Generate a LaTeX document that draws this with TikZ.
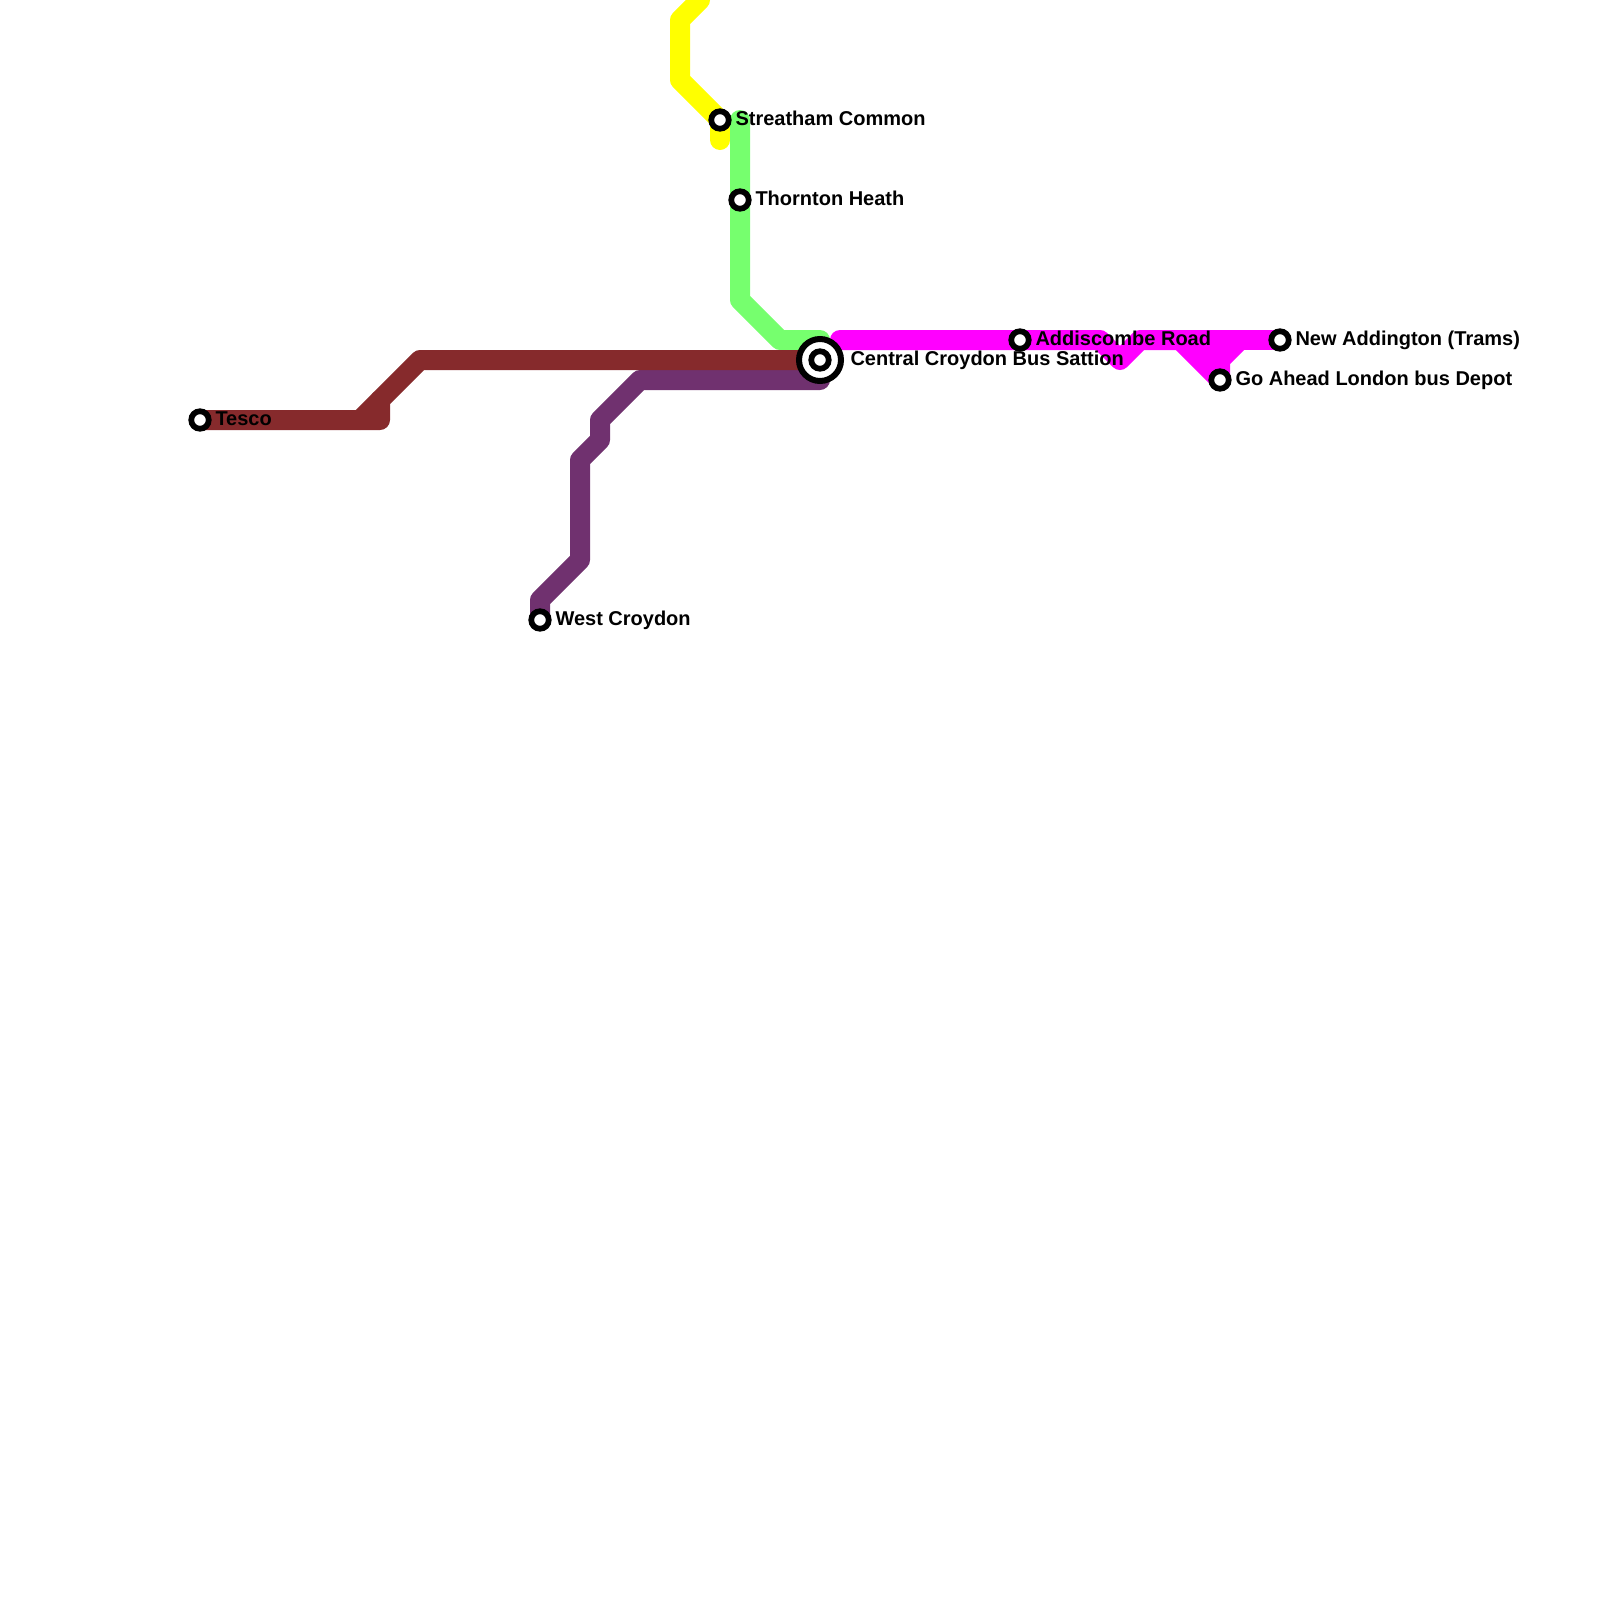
\documentclass[tikz,border=0pt]{standalone}
\usepackage{fontspec}
\setmainfont{Liberation Sans}
\definecolor{linegreen}{HTML}{76FF6E}
\definecolor{linered}{HTML}{862A2C}
\definecolor{linepurple}{HTML}{70316F}
\definecolor{linepink}{HTML}{FF00FF}
\definecolor{lineyellow}{HTML}{FFFF00}
\tikzset{
  busline/.style={line width=8pt, line cap=round, line join=round},
  stop/.style={circle, draw=black, fill=white, line width=2.3pt, minimum size=7pt, inner sep=0pt},
  hub/.style={circle, draw=black, fill=white, line width=2.4pt, minimum size=16.8pt, inner sep=0pt},
  stoplabel/.style={font=\bfseries\fontsize{8}{9}\selectfont, inner sep=0pt, anchor=base west}
}
\begin{document}
\begin{tikzpicture}[x=0.4pt, y=-0.4pt]
  \useasboundingbox (0,0) rectangle (1600,1600);
  % Stop positions
  \coordinate (pstreatham) at (720,120);
  \coordinate (pthornton) at (740,200);
  \coordinate (pcentral) at (820,360);
  \coordinate (paddiscombe) at (1020,340);
  \coordinate (pnewadd) at (1280,340);
  \coordinate (pgoahead) at (1220,380);
  \coordinate (ptesco) at (200,420);
  \coordinate (pwest) at (540,620);

  % Lines
  \draw[busline, lineyellow] (700,0) -- (680,20) -- (680,80) -- (pstreatham) -- (720,140);
  \draw[busline, linegreen] (740,120) -- (pthornton) -- (740,300) -- (780,340) -- (820,340) -- (pcentral);
  \draw[busline, linepink] (840,340) -- (paddiscombe) -- (1100,340) -- (1120,360) -- (1140,340) -- (1180,340);
  \draw[busline, linepink, fill=linepink] (1180,340) -- (pgoahead) -- (1220,360) -- (1240,340) -- cycle;
  \draw[busline, linepink] (1240,340) -- (pnewadd);
  \draw[busline, linepurple] (pwest) -- (540,600) -- (580,560) -- (580,460) -- (600,440) -- (600,420) -- (640,380) -- (820,380);
  \draw[busline, linered] (ptesco) -- (380,420) -- (380,400) -- (420,360) -- (pcentral);
  \draw[busline, linered] (360,420) -- (380,400);

  % Stops
  \node[stop] (streatham) at (pstreatham) {};
  \node[stop] (thornton) at (pthornton) {};
  \node[stop] (addiscombe) at (paddiscombe) {};
  \node[stop] (newadd) at (pnewadd) {};
  \node[stop] (goahead) at (pgoahead) {};
  \node[stop] (tesco) at (ptesco) {};
  \node[stop] (west) at (pwest) {};
  \node[hub] (central) at (pcentral) {};
  \node[stop] (centralin) at (pcentral) {};

  % Labels
  \node[stoplabel] (lstreatham) at (735,125) {Streatham Common};
  \node[stoplabel] (lthornton) at (755,205) {Thornton Heath};
  \node[stoplabel] (lcentral) at (850,365) {Central Croydon Bus Sattion};
  \node[stoplabel] (laddiscombe) at (1035,345) {Addiscombe Road};
  \node[stoplabel] (lnewadd) at (1295,345) {New Addington (Trams)};
  \node[stoplabel] (lgoahead) at (1235,385) {Go Ahead London bus Depot};
  \node[stoplabel] (ltesco) at (215,425) {Tesco};
  \node[stoplabel] (lwest) at (555,625) {West Croydon};
\end{tikzpicture}
\end{document}
